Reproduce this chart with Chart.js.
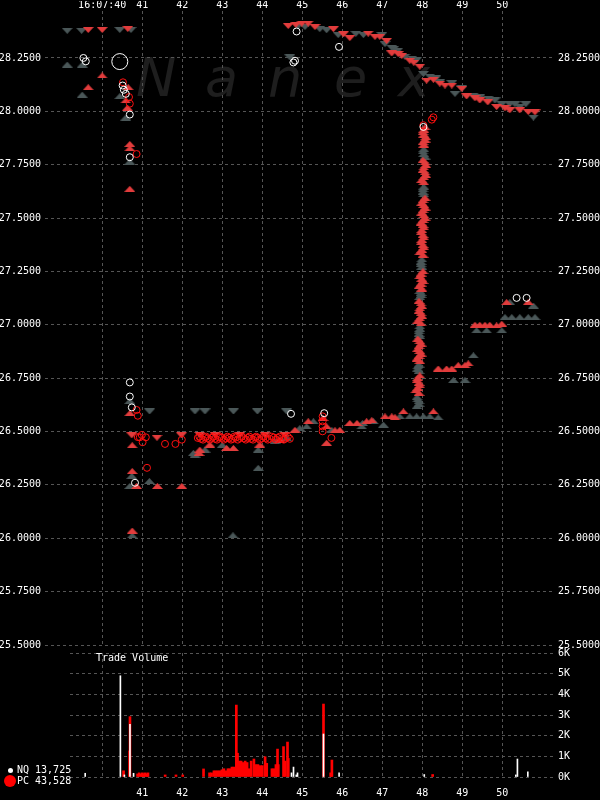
<!DOCTYPE html>
<html>
<head>
<meta charset="utf-8">
<script src="https://cdn.jsdelivr.net/npm/chart.js@4/dist/chart.umd.min.js"></script>
<style>
  body { margin:0; background:#000; width:600px; height:800px; overflow:hidden; position:relative; font-family:"DejaVu Sans Mono", monospace; }
  .wm { position:absolute; top:51px; font:italic 54px "DejaVu Sans", sans-serif; line-height:1; color:#1e1e1e; }
  .txt { position:absolute; color:#fff; font-size:10px; line-height:12px; white-space:pre; }
  .dot { position:absolute; border-radius:50%; }
  canvas { position:absolute; left:0; }
</style>
</head>
<body>
<span class="wm" style="left:136px">N</span>
<span class="wm" style="left:205px">a</span>
<span class="wm" style="left:268px">n</span>
<span class="wm" style="left:334px">e</span>
<span class="wm" style="left:398px">x</span>

<canvas id="main" width="600" height="656" style="top:0"></canvas>
<canvas id="vol" width="600" height="160" style="top:640px"></canvas>

<div class="txt" style="left:96px;top:652px">Trade Volume</div>
<div class="dot" style="left:8px;top:768px;width:5px;height:5px;background:#fff"></div>
<div class="txt" style="left:17px;top:764px">NQ 13,725</div>
<div class="dot" style="left:4px;top:775px;width:12px;height:12px;background:#ff0000"></div>
<div class="txt" style="left:17px;top:775px">PC 43,528</div>

<script>
// seconds after 16:07:00 / price
const secTicks = [40, 41, 42, 43, 44, 45, 46, 47, 48, 49, 50];
const priceTicks = [25.5, 25.75, 26, 26.25, 26.5, 26.75, 27, 27.25, 27.5, 27.75, 28, 28.25];
const volTicks = [0, 1000, 2000, 3000, 4000, 5000, 6000];

// grey down triangles
const greyDown = [
  [39.125,28.377],[39.485,28.377],[40.44,28.381],[40.72,28.381],
  [41.185,26.594],[42.32,26.594],[42.57,26.594],[43.28,26.594],[43.88,26.594],[44.61,26.594],
  [44.69,28.253],[44.90,28.400],[45.07,28.395],[45.44,28.385],[45.61,28.380],[45.90,28.357],
  [46.34,28.363],[46.53,28.357],[46.99,28.357],[47.07,28.315],[47.24,28.298],[47.29,28.293],[47.39,28.284],
  [47.57,28.256],[47.74,28.247],[47.86,28.240],[48.03,28.175],[48.19,28.163],[48.34,28.154],[48.44,28.136],
  [48.74,28.132],[48.82,28.082],[48.99,28.107],[49.28,28.074],[49.44,28.065],[49.65,28.059],[49.82,28.051],
  [49.99,28.033],[50.19,28.033],[50.32,28.033],[50.44,28.020],[50.59,28.033],[50.78,27.971]
];
// red down triangles
const redDown = [
  [39.65,28.381],[40.00,28.381],[40.64,28.386],
  [40.74,26.482],[41.37,26.471],[41.98,26.482],[42.44,26.484],[42.82,26.484],[43.44,26.484],[44.07,26.484],[44.57,26.484],
  [44.65,28.400],[44.84,28.405],[44.99,28.411],[45.15,28.411],[45.32,28.395],[45.78,28.385],[46.03,28.361],
  [46.19,28.343],[46.65,28.364],[46.82,28.349],[46.94,28.349],[47.11,28.330],[47.24,28.271],[47.40,28.268],
  [47.49,28.260],[47.69,28.237],[47.79,28.228],[47.94,28.209],[48.11,28.144],[48.28,28.148],[48.44,28.130],
  [48.57,28.121],[48.74,28.121],[48.99,28.106],[49.11,28.070],[49.32,28.061],[49.44,28.051],[49.64,28.042],
  [49.86,28.020],[50.07,28.014],[50.19,28.005],[50.44,28.005],[50.65,27.997],[50.82,27.995]
];
// grey up triangles
const greyUp = [
  [39.125,28.219],[39.50,28.219],[39.50,28.078],[40.44,28.071],[40.59,27.971],[40.69,27.764],
  [40.69,26.643],[40.74,26.292],[40.69,26.245],[41.18,26.268],[40.75,26.013],[43.27,26.014],
  [42.32,26.392],[42.28,26.400],[42.57,26.415],[43.00,26.437],[43.90,26.415],[43.90,26.330],[44.32,26.456],
  [44.61,26.470],[44.94,26.516],[45.11,26.524],[45.28,26.548],[45.74,26.508],[46.49,26.524],[46.51,26.540],
  [46.78,26.548],[47.03,26.532],
  [47.44,26.571],[47.69,26.571],[47.86,26.571],[48.03,26.571],[48.19,26.571],[48.40,26.566],
  [47.87,26.619],[47.92,26.630],[47.92,26.642],[47.89,26.651],[47.87,26.661],
  [47.92,26.784],[47.89,26.795],[47.89,26.805],[47.92,26.814],
  [47.94,26.947],[47.92,26.958],[47.92,26.970],[47.94,26.981],[47.94,26.993],
  [47.94,27.130],[47.97,27.140],[47.97,27.149],[47.94,27.158],
  [47.99,27.272],[47.97,27.284],[47.97,27.295],[47.99,27.307],
  [48.04,27.612],[48.02,27.623],[48.02,27.635],[48.04,27.647],
  [48.07,27.788],[48.04,27.800],[48.02,27.812],[48.04,27.823],
  [49.28,26.857],[48.78,26.741],[49.07,26.741],[49.36,26.974],[49.61,26.974],[49.99,26.974],
  [50.07,27.036],[50.24,27.036],[50.44,27.036],[50.65,27.036],[50.82,27.036],[50.19,27.106],[50.78,27.090]
];
// red up triangles
const redUp = [
  [40.00,28.168],[39.65,28.113],[40.65,28.113],[40.59,28.051],[40.63,28.017],[40.69,27.847],[40.69,27.827],
  [40.69,27.637],[40.69,26.586],[40.75,26.436],[40.75,26.315],[40.86,26.245],[41.38,26.245],[41.99,26.245],[40.75,26.036],
  [42.42,26.400],[42.44,26.415],[42.69,26.439],[43.11,26.423],[43.28,26.423],[43.94,26.439],[44.44,26.462],
  [44.82,26.508],[45.15,26.548],[45.52,26.563],[45.61,26.524],[45.61,26.447],[45.94,26.508],[45.82,26.506],
  [46.19,26.540],[46.37,26.540],[46.61,26.548],[46.74,26.553],[47.32,26.567],
  [47.07,26.571],[47.24,26.571],[47.53,26.594],[48.28,26.594],
  [47.92,26.681],[47.84,26.693],[47.89,26.705],[47.94,26.716],[47.92,26.728],[47.87,26.740],[47.89,26.751],[47.94,26.763],
  [47.94,26.830],[47.87,26.842],[47.92,26.854],[47.97,26.865],[47.94,26.877],[47.89,26.888],[47.92,26.900],
  [47.97,26.912],[47.94,26.923],[47.89,26.935],
  [47.97,27.007],[47.89,27.019],[47.94,27.030],[47.99,27.042],[47.97,27.054],[47.92,27.065],[47.94,27.077],
  [47.99,27.088],[47.97,27.100],[47.92,27.112],
  [47.99,27.170],[47.92,27.181],[47.97,27.193],[48.02,27.205],[47.99,27.216],[47.94,27.228],[47.97,27.240],[48.02,27.251],
  [48.02,27.328],[47.94,27.340],[47.99,27.351],[48.04,27.363],[48.02,27.374],[47.97,27.386],[47.99,27.398],
  [48.04,27.409],[48.02,27.421],[47.97,27.433],[47.99,27.444],[48.04,27.456],[48.02,27.468],[47.97,27.479],
  [48.02,27.491],[48.07,27.502],[48.04,27.514],[47.99,27.526],[48.02,27.537],[48.07,27.549],[48.04,27.561],
  [47.99,27.572],[48.02,27.584],[48.07,27.595],
  [48.04,27.668],[47.99,27.679],[48.04,27.691],[48.09,27.702],[48.07,27.714],[48.02,27.726],[48.04,27.737],
  [48.09,27.749],[48.07,27.761],[48.02,27.772],
  [48.04,27.844],[48.02,27.856],[48.07,27.868],[48.09,27.879],[48.04,27.891],[48.02,27.902],[48.04,27.914],[48.07,27.926],
  [48.40,26.795],[48.61,26.795],[48.74,26.795],[48.90,26.811],[49.07,26.811],[49.15,26.819],
  [49.32,27.000],[49.44,27.000],[49.57,27.000],[49.69,27.000],[49.86,26.997],[49.99,27.005],[50.11,27.106],[50.65,27.106]
];
// NQ trades (white circles)
const nqTrades = [
  [39.53,28.250],[39.59,28.234],[40.51,28.121],[40.54,28.101],[40.59,28.082],[40.69,27.985],[40.69,27.785],
  [40.69,26.730],[40.69,26.664],[40.74,26.613],[40.82,26.260],[44.72,26.583],[45.55,26.586],
  [44.86,28.374],[45.92,28.302],[44.78,28.229],[44.82,28.237],[48.03,27.927],[50.36,27.126],[50.61,27.126]
];
const nqBlock = [[40.44,28.233]];
// PC trades (red circles)
const pcTrades = [
  [40.52,28.136],[40.67,28.067],[40.69,28.036],[40.86,27.800],[40.86,26.601],[40.89,26.574],
  [40.94,26.473],[40.89,26.474],[40.99,26.484],[41.09,26.473],[41.01,26.450],[41.57,26.442],[41.83,26.442],[41.99,26.462],[41.12,26.330],
  [42.39,26.470],[42.43,26.476],[42.47,26.466],[42.52,26.462],[42.57,26.472],[42.60,26.476],[42.64,26.468],[42.69,26.462],
  [42.74,26.470],[42.78,26.476],[42.82,26.466],[42.87,26.462],[42.92,26.472],[42.95,26.476],[42.99,26.470],[43.04,26.462],
  [43.09,26.468],[43.13,26.476],[43.17,26.470],[43.22,26.462],[43.27,26.466],[43.30,26.476],[43.34,26.472],[43.39,26.462],
  [43.44,26.470],[43.49,26.476],[43.54,26.468],[43.59,26.462],[43.64,26.470],[43.68,26.476],[43.72,26.466],[43.77,26.462],
  [43.82,26.472],[43.85,26.476],[43.89,26.470],[43.94,26.462],[43.99,26.468],[44.04,26.476],[44.09,26.470],[44.14,26.462],
  [44.19,26.466],[44.24,26.476],[44.29,26.472],[44.34,26.462],[44.39,26.470],[44.44,26.476],[44.49,26.468],[44.54,26.462],
  [44.59,26.470],[44.64,26.476],[44.69,26.466],
  [45.51,26.571],[45.51,26.548],[45.51,26.524],[45.51,26.501],[45.73,26.470],
  [48.03,27.935],[48.24,27.961],[48.28,27.972]
];
// trade volume per print
const nqVol = [
  [39.57,180],[40.45,4900],[40.55,100],[40.69,2550],[40.78,180],[44.73,200],[44.78,480],[44.85,100],[44.88,200],
  [45.53,2080],[45.92,200],[48.05,120],[50.34,100],[50.38,870],[50.64,250]
];
const pcVol = [
  [40.53,300],[40.68,1260],[40.69,2920],
  [40.88,150],[40.92,200],[40.96,150],[41.00,200],[41.03,150],[41.07,200],[41.11,150],[41.14,200],
  [41.57,100],[41.84,100],[42.01,100],[42.53,390],[42.68,200],[42.73,200],
  [42.79,300],[42.84,300],[42.89,300],[42.94,300],[42.99,350],[43.04,400],[43.09,300],
  [43.14,400],[43.19,400],[43.24,480],[43.29,480],[43.35,3480],[43.38,1150],
  [43.42,770],[43.47,770],[43.52,700],[43.57,770],[43.62,700],[43.67,400],
  [43.72,770],[43.79,870],[43.84,600],[43.89,600],[43.95,550],[44.00,550],[44.07,980],[44.11,660],
  [44.24,400],[44.29,400],[44.34,600],[44.38,1350],[44.40,600],[44.53,1470],[44.57,770],[44.63,1690],[44.65,900],
  [45.53,3530],[45.71,200],[45.74,820],[48.26,120]
];

const RED_TRI = '#e23c3c';
const GREY_TRI = '#4a5758';
const GRID = '#555';
const FONT = { family: 'DejaVu Sans Mono', size: 10 };

function tri(color, down) {
  const c = document.createElement('canvas');
  c.width = 11; c.height = 6;
  const g = c.getContext('2d');
  g.fillStyle = color;
  g.beginPath();
  if (down) { g.moveTo(0, 0); g.lineTo(11, 0); g.lineTo(5.5, 6); }
  else { g.moveTo(5.5, 0); g.lineTo(11, 6); g.lineTo(0, 6); }
  g.fill();
  return c;
}

function pts(arr) { return arr.map(([x, y]) => ({ x, y })); }

function triSet(arr, color, down) {
  return { data: pts(arr), pointStyle: tri(color, down), pointRadius: 5 };
}
function ringSet(arr, color, r) {
  return { data: pts(arr), pointStyle: 'circle', pointRadius: r, borderColor: color, borderWidth: 1, backgroundColor: 'transparent' };
}

const setTicks = list => ax => { ax.ticks = list.map(v => ({ value: v })); };

new Chart(document.getElementById('main'), {
  type: 'scatter',
  data: {
    datasets: [
      ringSet(nqBlock, '#ffffff', 8),
      ringSet(nqTrades, '#ffffff', 3.5),
      ringSet(pcTrades, '#ff1010', 3.5),
      triSet(redDown, RED_TRI, true),
      triSet(redUp, RED_TRI, false),
      triSet(greyDown, GREY_TRI, true),
      triSet(greyUp, GREY_TRI, false)
    ]
  },
  options: {
    responsive: false,
    animation: false,
    events: [],
    layout: { padding: { bottom: 7.5 } },
    plugins: { legend: { display: false }, tooltip: { enabled: false } },
    scales: {
      x: {
        type: 'linear', position: 'top', min: 38.57, max: 51.27,
        afterBuildTicks: setTicks(secTicks),
        afterFit: ax => { ax.height = 10; },
        grid: { color: GRID, drawTicks: false },
        border: { display: false, dash: [3, 3] },
        ticks: { color: '#fff', font: FONT, padding: 0, maxRotation: 0, autoSkip: false,
          callback: v => v === 40 ? '16:07:40' : String(v) }
      },
      y: {
        position: 'left', min: 25.5, max: 28.47,
        afterBuildTicks: setTicks(priceTicks),
        afterFit: ax => { ax.width = 45; },
        grid: { color: GRID, drawTicks: false },
        border: { display: false, dash: [3, 3] },
        ticks: { color: '#fff', font: FONT, padding: 4, callback: v => v.toFixed(4) }
      },
      y2: {
        position: 'right', min: 25.5, max: 28.47,
        afterBuildTicks: setTicks(priceTicks),
        afterFit: ax => { ax.width = 47; },
        grid: { display: false, drawTicks: false },
        border: { display: false },
        ticks: { color: '#fff', font: FONT, padding: 5, callback: v => v.toFixed(4) }
      }
    }
  }
});

new Chart(document.getElementById('vol'), {
  type: 'bar',
  data: {
    datasets: [
      { data: pts(nqVol), backgroundColor: '#ffffff', barThickness: 1, grouped: false },
      { data: pts(pcVol), backgroundColor: '#ff0000', barThickness: 2, grouped: false }
    ]
  },
  options: {
    responsive: false,
    animation: false,
    events: [],
    layout: { padding: { left: 70, top: 13 } },
    plugins: { legend: { display: false }, tooltip: { enabled: false } },
    scales: {
      x: {
        type: 'linear', position: 'bottom', min: 39.19, max: 51.27, offset: false,
        afterBuildTicks: setTicks(secTicks),
        afterFit: ax => { ax.height = 23; },
        grid: { color: GRID, drawTicks: false, offset: false },
        border: { display: false, dash: [3, 3] },
        ticks: { color: '#fff', font: FONT, padding: 10, maxRotation: 0, autoSkip: false,
          callback: v => v === 40 ? '' : String(v) }
      },
      y: {
        position: 'right', min: 0, max: 6000,
        afterBuildTicks: setTicks(volTicks),
        afterFit: ax => { ax.width = 47; },
        grid: { color: GRID, drawTicks: false },
        border: { display: false, dash: [3, 3] },
        ticks: { color: '#fff', font: FONT, padding: 5, callback: v => (v / 1000) + 'K' }
      }
    }
  }
});
</script>
</body>
</html>
